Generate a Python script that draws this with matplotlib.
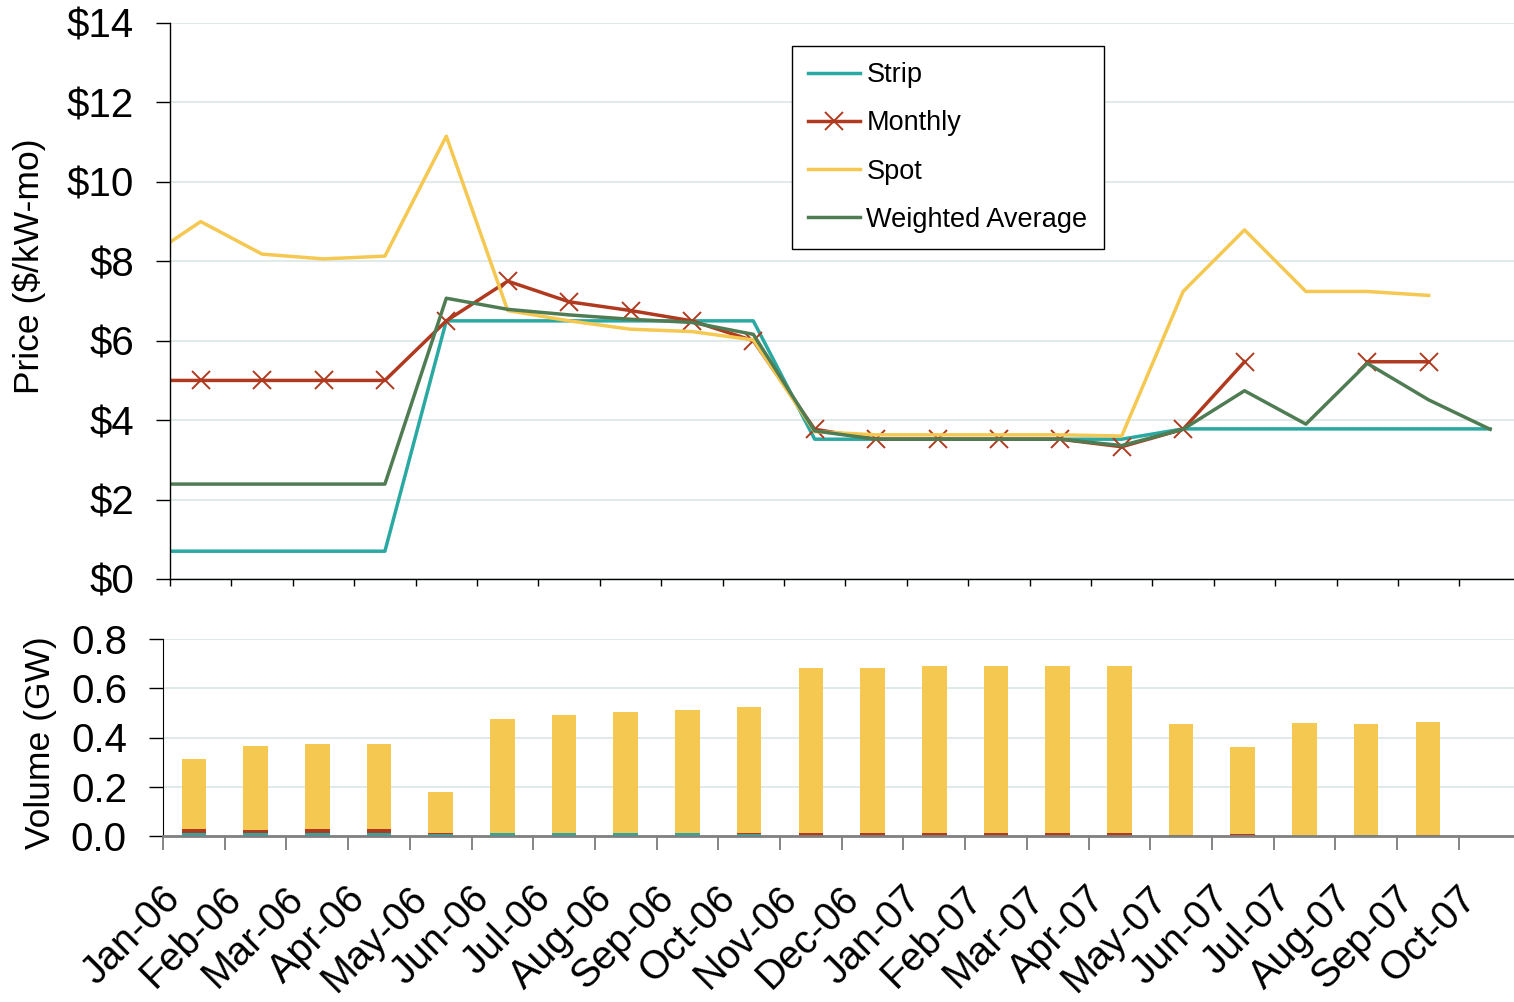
import numpy as np
import matplotlib
matplotlib.use('Agg')
import matplotlib.pyplot as plt
import matplotlib.transforms as mtransforms

plt.rcParams['font.family'] = ['Liberation Sans', 'DejaVu Sans']

months = ['Jan-06', 'Feb-06', 'Mar-06', 'Apr-06', 'May-06', 'Jun-06', 'Jul-06', 'Aug-06',
          'Sep-06', 'Oct-06', 'Nov-06', 'Dec-06', 'Jan-07', 'Feb-07', 'Mar-07', 'Apr-07',
          'May-07', 'Jun-07', 'Jul-07', 'Aug-07', 'Sep-07', 'Oct-07']
nan = np.nan

# value of each series for the month before Jan-06 (line runs in from the left edge)
lead = {'Strip': 0.7, 'Monthly': 5.0, 'Spot': 7.96, 'Weighted Average': 2.39}

strip = [0.7, 0.7, 0.7, 0.7, 6.5, 6.5, 6.5, 6.5, 6.5, 6.5, 3.52, 3.52, 3.52, 3.52, 3.52, 3.52,
         3.78, 3.78, 3.78, 3.78, 3.78, 3.78]
monthly = [5.0, 5.0, 5.0, 5.0, 6.5, 7.5, 6.98, 6.76, 6.5, 6.0, 3.77, 3.52, 3.52, 3.52, 3.52, 3.33,
           3.77, 5.47, nan, 5.47, 5.47, nan]
spot = [9.0, 8.18, 8.06, 8.13, 11.15, 6.76, 6.5, 6.29, 6.23, 6.02, 3.71, 3.63, 3.63, 3.63, 3.63, 3.6,
        7.24, 8.79, 7.24, 7.24, 7.14, nan]
wavg = [2.39, 2.39, 2.39, 2.39, 7.07, 6.79, 6.65, 6.54, 6.46, 6.16, 3.73, 3.52, 3.52, 3.52, 3.52, 3.36,
        3.77, 4.74, 3.9, 5.43, 4.51, 3.77]

vol_strip = [0.011, 0.011, 0.011, 0.011, 0.007, 0.011, 0.011, 0.011, 0.011, 0.008, 0, 0, 0, 0, 0, 0,
             0, 0, 0, 0.003, 0, 0]
vol_monthly = [0.016, 0.012, 0.016, 0.016, 0.005, 0, 0, 0, 0, 0.003, 0.011, 0.011, 0.011, 0.011,
               0.011, 0.011, 0.004, 0.008, 0, 0, 0.003, 0]
vol_spot = [0.285, 0.342, 0.346, 0.346, 0.166, 0.463, 0.479, 0.492, 0.5, 0.512, 0.671, 0.671, 0.679,
            0.679, 0.679, 0.679, 0.45, 0.353, 0.458, 0.451, 0.459, 0]

c_strip = '#2aa8a2'
c_monthly = '#b03a1f'
c_spot = '#f5c852'
c_wavg = '#507c54'
c_grid = '#dbe6e6'

W, H = 1514, 1002
fig = plt.figure(figsize=(W / 100, H / 100), dpi=100)

ax = fig.add_axes([170 / W, 1 - 579 / H, 22 * 61.4 / W, 556 / H])
ax2 = fig.add_axes([163 / W, 1 - 836 / H, 22 * 61.7 / W, 197 / H])

x = np.arange(len(months))
xl = np.arange(-1, len(months))

series = [('Strip', strip, c_strip, None), ('Monthly', monthly, c_monthly, 'x'),
          ('Spot', spot, c_spot, None), ('Weighted Average', wavg, c_wavg, None)]
handles = []
for name, vals, col, mk in series:
    yv = [lead[name]] + list(vals)
    h, = ax.plot(xl, yv, color=col, lw=2.5, marker=mk, ms=13, mew=1.4,
                 markevery=list(range(1, len(yv))) if mk else None, label=name)
    handles.append(h)

ax.set_xlim(-0.5, 21.5)
ax.set_ylim(0, 14)
ax.set_yticks(range(0, 15, 2))
ax.set_yticklabels(['$%d' % v for v in range(0, 15, 2)])
ax.set_xticks(np.arange(-0.5, 21.6, 1))
ax.set_xticklabels([])
ax.grid(axis='y', color=c_grid, lw=1.2)
ax.set_axisbelow(True)
for s in ['top', 'right']:
    ax.spines[s].set_visible(False)
ax.spines['left'].set_linewidth(1.0)
ax.spines['bottom'].set_linewidth(1.0)
ax.tick_params(axis='y', length=10, width=1, pad=16, labelsize=29)
ax.tick_params(axis='x', length=5, width=1, direction='out')

leg = ax.legend(handles=handles, loc='upper left', bbox_to_anchor=(792 / W, 1 - 46 / H),
                bbox_transform=fig.transFigure, borderaxespad=0, fontsize=19.5,
                frameon=True, fancybox=False, edgecolor='black', framealpha=1,
                handlelength=1.9, handletextpad=0.25, labelspacing=0.82, borderpad=0.6)
leg.get_frame().set_linewidth(1.0)

# volume panel
ax2.bar(x, vol_strip, width=0.4, color=c_strip)
b1 = np.array(vol_strip)
ax2.bar(x, vol_monthly, width=0.4, bottom=b1, color=c_monthly)
b2 = b1 + np.array(vol_monthly)
ax2.bar(x, vol_spot, width=0.4, bottom=b2, color=c_spot)

ax2.set_xlim(-0.5, 21.5)
ax2.set_ylim(0, 0.8)
ax2.set_yticks([0, 0.2, 0.4, 0.6, 0.8])
ax2.set_yticklabels(['%.1f' % v for v in [0, 0.2, 0.4, 0.6, 0.8]])
ax2.set_xticks(np.arange(-0.5, 21.6, 1))
ax2.set_xticklabels([])
ax2.set_xticks(x, minor=True)
ax2.set_xticklabels(months, minor=True, rotation=45, ha='right', va='top',
                    rotation_mode='anchor', fontsize=28.5)
ax2.tick_params(axis='x', which='minor', length=0, pad=31)
ax2.tick_params(axis='x', which='major', length=10, width=1.2, color='#707070')
ax2.tick_params(axis='y', length=10, width=1, pad=16, labelsize=29)
ax2.grid(axis='y', color=c_grid, lw=1.2)
ax2.set_axisbelow(True)
for s in ['top', 'right']:
    ax2.spines[s].set_visible(False)
ax2.spines['bottom'].set_color('#808080')
ax2.spines['bottom'].set_linewidth(2)

offset = mtransforms.ScaledTranslation(-0.33, 0, fig.dpi_scale_trans)
for lab in ax2.get_xticklabels(minor=True):
    lab.set_transform(lab.get_transform() + offset)

fig.text(29 / W, 1 - 266 / H, 'Price ($/kW-mo)', rotation=90, ha='center', va='center', fontsize=25.5)
fig.text(41 / W, 1 - 743 / H, 'Volume (GW)', rotation=90, ha='center', va='center', fontsize=25.5)

fig.savefig('out.png', dpi=100)
